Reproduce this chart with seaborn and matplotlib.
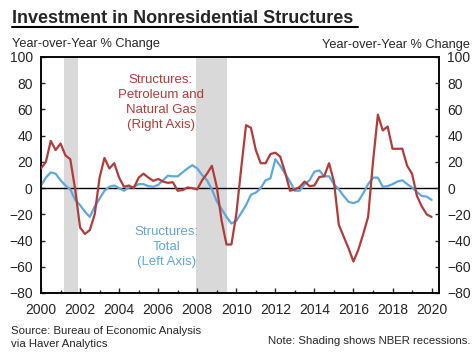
import numpy as np
import pandas as pd
import seaborn as sns
from matplotlib import pyplot as plt
from matplotlib.ticker import MultipleLocator

# quarterly data, 2000 Q1 - 2020 Q1, year-over-year % change
petroleum = [15, 20, 36, 29, 34, 25, 22, -1, -30, -35, -32, -20, 8, 23, 15, 19, 8, 1, 2, 0,
             8, 11, 8, 5.5, 7, 5, 4, 4.5, -2, -1.5, 0.5, 0, -1, 6, 11, 17, 1, -25, -43, -43,
             -20, 15, 48, 46, 29, 19, 19, 26, 27, 24, 12, -2, -1, 1, 5, 1.5, 2, 8.5, 9, 19,
             5, -28, -37, -46, -56, -47, -35, -22, 20, 56, 44, 47, 30, 30, 30, 17, 11, -6, -14, -20,
             -22]
total = [2, 8, 12, 11, 6, 2, -1, -9, -13, -18, -22, -14, -8, -2, 1, 2, 0, -2, 0.5, 1,
         3, 3, 1.5, 1, 2.5, 6, 9.5, 9, 9, 12, 15, 17.5, 15, 10, 6, -1, -10, -16, -22, -27,
         -25, -19, -13, -5, -3.5, 0, 6, 7.5, 22, 17, 11, 5, -2, -2, 3, 6, 12.5, 13.5, 9, 9,
         3, -1, -6, -10.5, -11.5, -10, -4, 3, 8, 8, 1, 1.5, 3, 5, 6, 3, 0.5, -3, -6, -6.5,
         -9]
quarters = np.arange(2000, 2020.01, 0.25)

# NBER recessions
rec_start = [2001.17, 2007.92]
rec_end = [2001.92, 2009.5]

red = '#b23b3b'
blue = '#5ea8dc'

df = pd.DataFrame({'date': quarters, 'petroleum': petroleum, 'total': total})

sns.set_style('ticks')
plt.rcParams['font.family'] = ['Liberation Sans', 'DejaVu Sans']

fig = plt.figure(figsize=(4.75, 3.57), dpi=100)
ax = fig.add_axes([41 / 475, 1 - 293 / 357, 398 / 475, 236 / 357])

for s, e in zip(rec_start, rec_end):
    ax.axvspan(s, e, color='#d9d9d9', lw=0, zorder=0)
ax.axhline(0, color='black', lw=1, zorder=1)

sns.lineplot(data=df, x='date', y='total', ax=ax, color=blue, lw=1.6, zorder=3)
ax2 = ax.twinx()
sns.lineplot(data=df, x='date', y='petroleum', ax=ax2, color=red, lw=1.6, zorder=3)

for a in (ax, ax2):
    a.set_ylim(-80, 100)
    a.set_xlim(2000, 2020.38)
    a.set_xlabel('')
    a.set_ylabel('')
    a.yaxis.set_major_locator(MultipleLocator(20))
    for sp in a.spines.values():
        sp.set_visible(True)
        sp.set_color('black')
        sp.set_linewidth(1.1)

ax.xaxis.set_major_locator(MultipleLocator(2))
ax.xaxis.set_minor_locator(MultipleLocator(1))
ax.tick_params(axis='x', which='major', direction='in', length=3.5, width=1, pad=7, labelsize=10)
ax.tick_params(axis='x', which='minor', direction='in', length=2.5, width=1)
ax.tick_params(axis='y', direction='in', length=3, width=1, pad=6, labelsize=10)
ax2.tick_params(axis='y', direction='in', length=3, width=1, pad=6, labelsize=10)
ax.set_xticklabels([str(int(t)) for t in ax.get_xticks()])

# series labels
ax2.text(2006.14, 65.5, 'Structures:\nPetroleum and\nNatural Gas\n(Right Axis)', color=red,
         ha='center', va='center', fontsize=9.5, linespacing=1.35)
ax.text(2006.45, -45, 'Structures:\nTotal\n(Left Axis)', color=blue,
        ha='center', va='center', fontsize=9.5, linespacing=1.35)

# title with underline
fig.text(12 / 475, 1 - 23 / 357, 'Investment in Nonresidential Structures',
         fontsize=13, fontweight='heavy', ha='left', va='baseline')
fig.add_artist(plt.Line2D([12 / 475, 358 / 475], [1 - 27 / 357, 1 - 27 / 357],
                          color='black', lw=1.5))

fig.text(12 / 475, 1 - 47 / 357, 'Year-over-Year % Change', fontsize=9.2, ha='left', va='baseline')
fig.text(470 / 475, 1 - 48 / 357, 'Year-over-Year % Change', fontsize=9.2, ha='right', va='baseline')

fig.text(11 / 475, 1 - 334 / 357, 'Source: Bureau of Economic Analysis',
         fontsize=8.2, ha='left', va='baseline')
fig.text(11 / 475, 1 - 347 / 357, 'via Haver Analytics',
         fontsize=8.2, ha='left', va='baseline')
fig.text(470 / 475, 1 - 344 / 357, 'Note: Shading shows NBER recessions.',
         fontsize=8.2, ha='right', va='baseline')

fig.savefig('out.png', dpi=100)
